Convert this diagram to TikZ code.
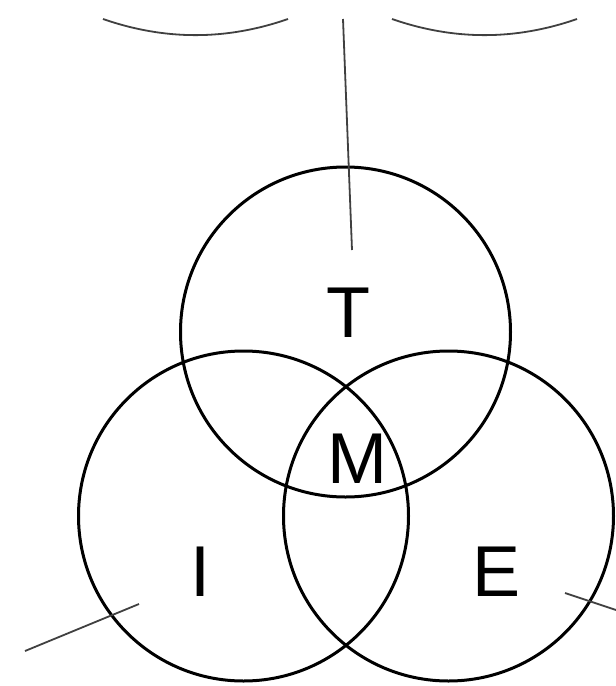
\documentclass[tikz,border=0pt]{standalone}
\usepackage{fontspec}
\setmainfont{Liberation Sans}
\begin{document}
\begin{tikzpicture}[x=1pt,y=-1pt,
  ring/.style={draw=black,line width=3pt,circle,minimum size=330pt,inner sep=0pt},
  thinline/.style={draw=black!75,line width=1.8pt},
  letter/.style={font=\fontsize{72}{72}\selectfont,inner sep=0pt}]
\useasboundingbox (0,0) rectangle (616,686);
\node[ring] (top) at (345.5,332) {};
\node[ring] (left) at (243.5,516) {};
\node[ring] (right) at (448.5,516) {};
\node[letter] (T) at (348,313) {T};
\node[letter] (M) at (357,459) {M};
\node[letter] (I) at (200,572) {I};
\node[letter] (E) at (497,572) {E};
\coordinate (a1) at (103,19);
\coordinate (a2) at (288,19);
\coordinate (b1) at (392,19);
\coordinate (b2) at (577,19);
\draw[thinline] (a1) .. controls (165,40.5) and (226,40.5) .. (a2);
\draw[thinline] (b1) .. controls (454,40.5) and (515,40.5) .. (b2);
\coordinate (v1) at (343,19);
\coordinate (v2) at (352,250);
\draw[thinline] (v1) -- (v2);
\coordinate (l1) at (25,651);
\coordinate (l2) at (139,604);
\draw[thinline] (l1) -- (l2);
\coordinate (r1) at (565,593);
\coordinate (r2) at (616,610);
\draw[thinline] (r1) -- (r2);
\end{tikzpicture}
\end{document}
